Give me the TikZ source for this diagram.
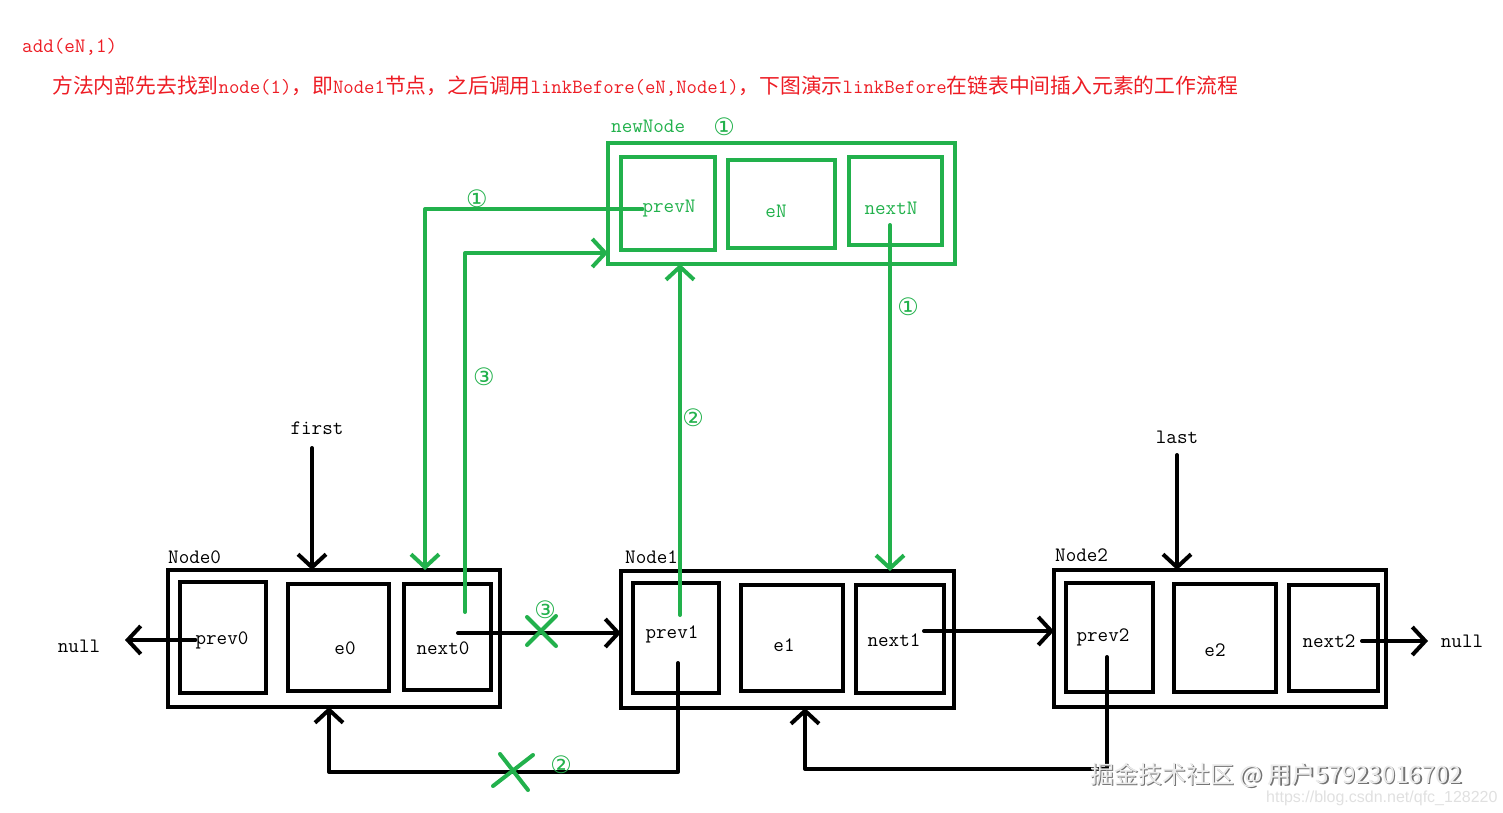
\documentclass[tikz,border=0pt]{standalone}
\usepackage{fontspec}
\usetikzlibrary{arrows.meta}
\newcommand\mono{\ttfamily\addfontfeature{FakeBold=0.6}}
\newfontfamily\cjk{Noto Sans CJK SC}
\newfontfamily\sym{DejaVu Sans}
\newfontfamily\wsans{Liberation Sans}
\definecolor{pgreen}{RGB}{34,177,76}
\definecolor{pred}{RGB}{237,28,36}
\tikzset{
  box/.style={draw, line width=4pt, rectangle, inner sep=0pt, outer sep=0pt},
  gbox/.style={box, draw=pgreen},
  lbl/.style={inner sep=0pt, font=\mono\fontsize{20.5}{22}\selectfont},
  glbl/.style={lbl, text=pgreen},
  circ/.style={inner sep=0pt, font=\sym\fontsize{24}{26}\selectfont, text=pgreen},
  barr/.style={line width=4pt, line cap=round, line join=round, -{Straight Barb[length=13pt,width=28pt]}},
  garr/.style={barr, draw=pgreen},
  gline/.style={line width=4pt, line cap=round, draw=pgreen},
}
\begin{document}
\begin{tikzpicture}[x=1pt,y=-1pt]
\useasboundingbox (0,0) rectangle (1503,812);
% heading
\node[anchor=west, inner sep=0pt, text=pred, font=\mono\fontsize{20.5}{22}\selectfont] (title) at (22,47) {add(eN,1)};
\node[anchor=west, inner sep=0pt, text=pred] (desc) at (52,86)
 {\fontsize{20.8}{24}\selectfont{\cjk 方法内部先去找到}{\mono\fontsize{20.2}{24}\selectfont node(1)}{\cjk ，即}{\mono\fontsize{20.2}{24}\selectfont Node1}{\cjk 节点，之后调用}{\mono\fontsize{20.2}{24}\selectfont linkBefore(eN,Node1)}{\cjk ，下图演示}{\mono\fontsize{20.2}{24}\selectfont linkBefore}{\cjk 在链表中间插入元素的工作流程}};

% newNode
\node[gbox, minimum width=347pt, minimum height=121pt] (nn) at (781.5,203.5) {};
\node[gbox, minimum width=94pt, minimum height=93pt] (nnp) at (668,203.5) {};
\node[gbox, minimum width=107pt, minimum height=88pt] (nne) at (781.5,204) {};
\node[gbox, minimum width=93pt, minimum height=88pt] (nnn) at (895.5,201) {};
\node[glbl] (tprevN) at (669,209) {prevN};
\node[glbl] (teN) at (776,211) {eN};
\node[glbl] (tnextN) at (891,208) {nextN};
\node[glbl, anchor=west] (tnewNode) at (611,126) {newNode};
\node[circ] (c1a) at (724,127) {①};

% Node0
\node[box, minimum width=332pt, minimum height=137pt] (n0) at (334,638.5) {};
\node[box, minimum width=86pt, minimum height=111pt] (n0p) at (223,637.5) {};
\node[box, minimum width=101pt, minimum height=107pt] (n0e) at (338.5,637.5) {};
\node[box, minimum width=87pt, minimum height=106pt] (n0n) at (447.5,637) {};
\node[lbl] (tprev0) at (222,640) {prev0};
\node[lbl] (te0) at (345,648) {e0};
\node[lbl] (tnext0) at (443,648) {next0};
\node[lbl, anchor=west] (tNode0) at (168,557) {Node0};

% Node1
\node[box, minimum width=333pt, minimum height=137pt] (n1) at (787.5,639.5) {};
\node[box, minimum width=86pt, minimum height=110pt] (n1p) at (676,638) {};
\node[box, minimum width=102pt, minimum height=106pt] (n1e) at (792,638) {};
\node[box, minimum width=88pt, minimum height=108pt] (n1n) at (900,639) {};
\node[lbl] (tprev1) at (672,634) {prev1};
\node[lbl] (te1) at (784,645) {e1};
\node[lbl] (tnext1) at (894,640) {next1};
\node[lbl, anchor=west] (tNode1) at (625,557) {Node1};

% Node2
\node[box, minimum width=332pt, minimum height=137pt] (n2) at (1220,638.5) {};
\node[box, minimum width=87pt, minimum height=109pt] (n2p) at (1109.5,637.5) {};
\node[box, minimum width=102pt, minimum height=108pt] (n2e) at (1225,638) {};
\node[box, minimum width=89pt, minimum height=106pt] (n2n) at (1333.5,638) {};
\node[lbl] (tprev2) at (1103,637) {prev2};
\node[lbl] (te2) at (1215,650) {e2};
\node[lbl] (tnext2) at (1329,641) {next2};
\node[lbl, anchor=west] (tNode2) at (1055,555) {Node2};

% pointers
\node[lbl] (first) at (317,428) {first};
\node[lbl] (last) at (1177,437) {last};
\node[lbl] (null0) at (79,646) {null};
\node[lbl] (null2) at (1462,641) {null};

% coordinates
\coordinate (fx) at (312,448);
\coordinate (lx) at (1177,455);
\coordinate (tipL) at (125,640);
\coordinate (s01) at (458,633);
\coordinate (s12) at (924,631);
\coordinate (s2n) at (1362,641);
\coordinate (tipR) at (1428,641);
\coordinate (b1) at (678,663);
\coordinate (b1d) at (329,772);
\coordinate (b2) at (1107,657);
\coordinate (b2d) at (805,769);
\coordinate (g1) at (425,568);
\coordinate (g3) at (465,612);
\coordinate (g3t) at (465,253);
\coordinate (g2) at (680,615);
\coordinate (g4) at (890,225);

% black connectors
\draw[barr] (fx) -- (fx |- n0.north);
\draw[barr] (lx) -- (lx |- n2.north);
\draw[barr] (tprev0.west |- tipL) -- (tipL);
\draw[barr] (s01) -- (s01 -| n1.west);
\draw[barr] (s12) -- (s12 -| n2.west);
\draw[barr] (s2n) -- (tipR);
\draw[barr] (b1) |- (b1d) -- (b1d |- n0.south);
\draw[barr] (b2) |- (b2d) -- (b2d |- n1.south);

% green connectors
\draw[garr] (tprevN.west) -| (g1 |- n0.north);
\draw[garr] (g3) -- (g3t) -- (g3t -| nn.west);
\draw[garr] (g2) -- (g2 |- nn.south);
\draw[garr] (g4) -- (g4 |- n1.north);

% crosses
\draw[gline] (527,617) -- (556,646) (527,645) -- (556,616);
\draw[gline] (500,754) -- (528,790) (493,786) -- (533,755);

% green step labels
\node[circ] (c1b) at (477,199) {①};
\node[circ] (c3a) at (484,377) {③};
\node[circ] (c2a) at (693,418) {②};
\node[circ] (c1c) at (908,307) {①};
\node[circ] (c3b) at (545,610) {③};
\node[circ] (c2b) at (561,765) {②};

% watermark
\node[anchor=west, inner sep=0pt, text=black!55, font=\cjk\fontsize{24}{26}\selectfont] (wm0) at (1091.5,776.5) {掘金技术社区 @ 用户57923016702};
\node[anchor=west, inner sep=0pt, text=black!8, font=\cjk\fontsize{24}{26}\selectfont] (wm) at (1090,775) {掘金技术社区 @ 用户57923016702};
\node[anchor=west, inner sep=0pt, text=black!12, font=\wsans\fontsize{16}{18}\selectfont] (url) at (1266,798) {https://blog.csdn.net/qfc\_128220};
\end{tikzpicture}
\end{document}
